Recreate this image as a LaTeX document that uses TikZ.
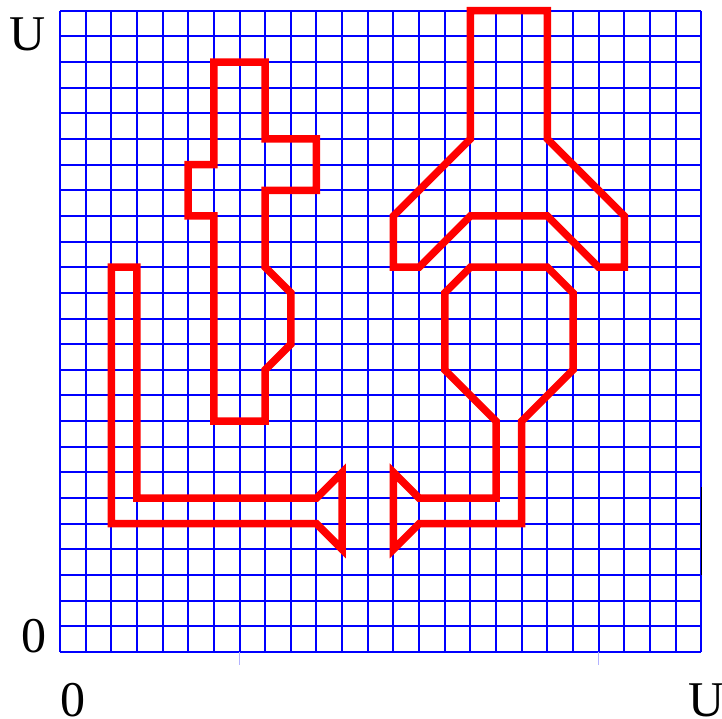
\documentclass[tikz,border=0pt]{standalone}
\usepackage{fontspec}
\setmainfont{Liberation Serif}
\definecolor{GridBlue}{HTML}{0000FF}
\definecolor{Outline}{HTML}{FF0000}
\tikzset{
  shape line/.style={Outline,line width=7.5pt,line join=miter},
  axis label/.style={font=\fontsize{50}{50}\selectfont,inner sep=0pt}
}
\begin{document}
\begin{tikzpicture}[x=25.65pt,y=25.65pt]
\useasboundingbox (-2.339,-2.612) rectangle (25.809,25.419);
\draw[step=1,GridBlue,line width=2pt] (0,0) grid (25,25);
\draw[GridBlue!30,line width=.6pt] (7,0) -- (7,-.5) (21,0) -- (21,-.5);
\draw[black,line width=1.5pt] (25,3) -- (25,6.45);
% left figure
\draw[shape line] (6,23) -- (8,23) -- (8,20) -- (10,20) -- (10,18) -- (8,18) -- (8,15)
  -- (9,14) -- (9,12) -- (8,11) -- (8,9) -- (6,9) -- (6,17) -- (5,17) -- (5,19)
  -- (6,19) -- cycle;
\draw[shape line] (2,15) -- (3,15) -- (3,6) -- (10,6) -- (11,7) -- (11,4) -- (10,5)
  -- (2,5) -- cycle;
% right figure
\draw[shape line] (16,25) -- (19,25) -- (19,20) -- (22,17) -- (22,15) -- (21,15)
  -- (19,17) -- (16,17) -- (14,15) -- (13,15) -- (13,17) -- (16,20) -- cycle;
\draw[shape line] (13,7) -- (14,6) -- (17,6) -- (17,9) -- (15,11) -- (15,14) -- (16,15)
  -- (19,15) -- (20,14) -- (20,11) -- (18,9) -- (18,5) -- (14,5) -- (13,4) -- cycle;
% axis labels
\node[axis label] (yTop) at (-1.25,24.09) {U};
\node[axis label] (yZero) at (-1.01,.62) {0};
\node[axis label] (xZero) at (.5,-1.87) {0};
\node[axis label] (xTop) at (25.19,-1.87) {U};
\end{tikzpicture}
\end{document}
